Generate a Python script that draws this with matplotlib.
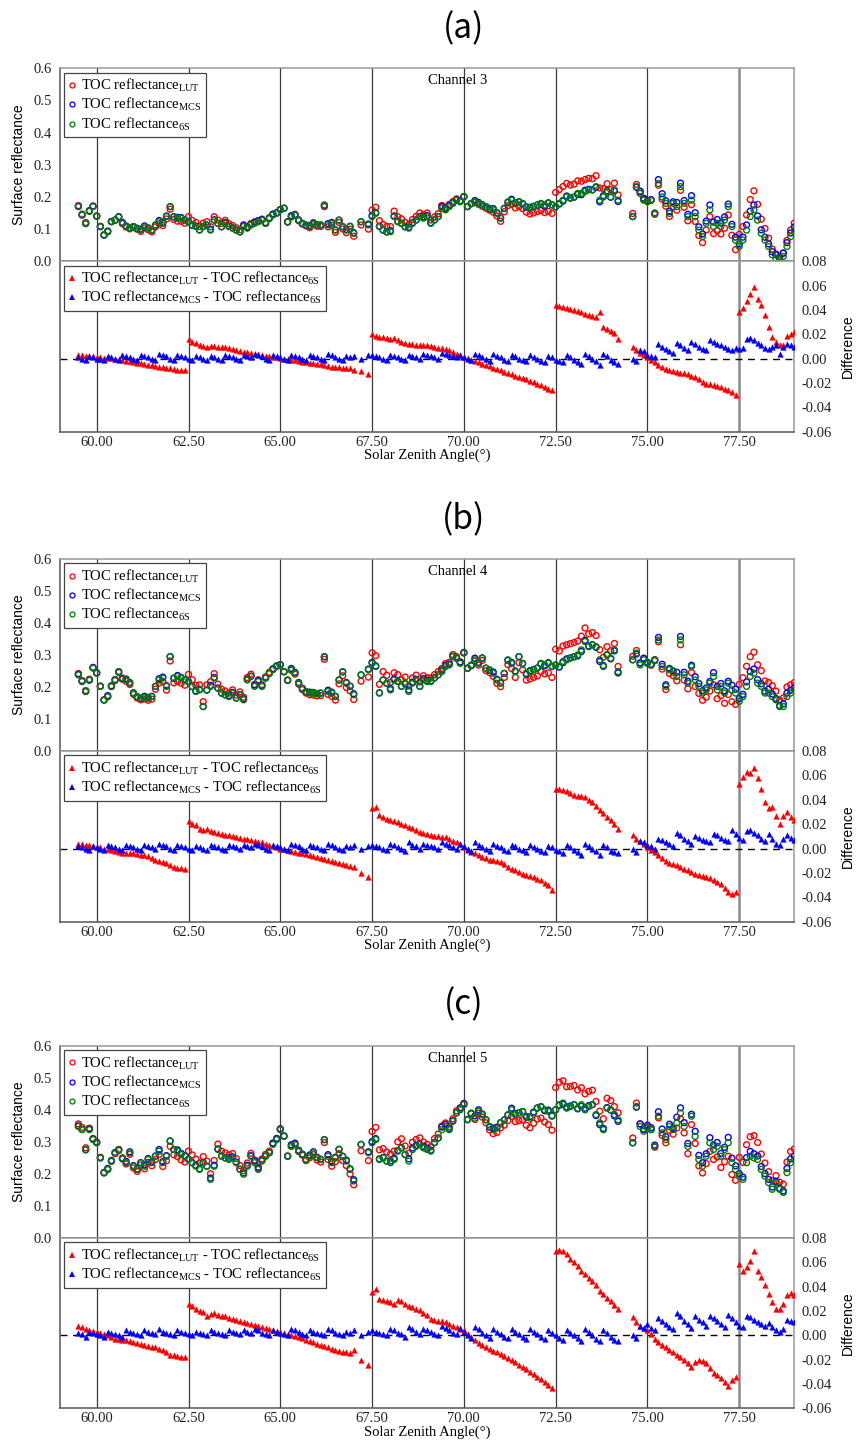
import numpy as np
import matplotlib
matplotlib.use('Agg')
import matplotlib.pyplot as plt
from matplotlib.lines import Line2D
from matplotlib.ticker import FormatStrFormatter

plt.rcParams['font.family'] = ['Liberation Serif', 'DejaVu Serif']
plt.rcParams['mathtext.fontset'] = 'custom'
plt.rcParams['mathtext.rm'] = 'Liberation Serif'
plt.rcParams['mathtext.it'] = 'Liberation Serif:italic'
plt.rcParams['mathtext.bf'] = 'Liberation Serif:bold'

# ---------------- data ----------------
sza = [59.5, 59.6, 59.7, 59.8, 59.9,
       60.0, 60.1, 60.2, 60.3, 60.4, 60.5, 60.6, 60.7, 60.8, 60.9,
       61.0, 61.1, 61.2, 61.3, 61.4, 61.5, 61.6, 61.7, 61.8, 61.9,
       62.0, 62.1, 62.2, 62.3, 62.4, 62.5, 62.6, 62.7, 62.8, 62.9,
       63.0, 63.1, 63.2, 63.3, 63.4, 63.5, 63.6, 63.7, 63.8, 63.9,
       64.0, 64.1, 64.2, 64.3, 64.4, 64.5, 64.6, 64.7, 64.8, 64.9,
       65.0, 65.1, 65.2, 65.3, 65.4, 65.5, 65.6, 65.7, 65.8, 65.9,
       66.0, 66.1, 66.2, 66.3, 66.4, 66.5, 66.6, 66.7, 66.8, 66.9,
       67.0, 67.2, 67.4,
       67.5, 67.6, 67.7, 67.8, 67.9,
       68.0, 68.1, 68.2, 68.3, 68.4, 68.5, 68.6, 68.7, 68.8, 68.9,
       69.0, 69.1, 69.2, 69.3, 69.4, 69.5, 69.6, 69.7, 69.8, 69.9,
       70.0, 70.1, 70.2, 70.3, 70.4, 70.5, 70.6, 70.7, 70.8, 70.9,
       71.0, 71.1, 71.2, 71.3, 71.4, 71.5, 71.6, 71.7, 71.8, 71.9,
       72.0, 72.1, 72.2, 72.3, 72.4, 72.5, 72.6, 72.7, 72.8, 72.9,
       73.0, 73.1, 73.2, 73.3, 73.4, 73.5, 73.6, 73.7, 73.8, 73.9,
       74.0, 74.1, 74.2,
       74.6, 74.7, 74.8, 74.9,
       75.0, 75.1, 75.2, 75.3, 75.4, 75.5, 75.6, 75.7, 75.8, 75.9,
       76.0, 76.1, 76.2, 76.3, 76.4, 76.5, 76.6, 76.7, 76.8, 76.9,
       77.0, 77.1, 77.2, 77.3, 77.4, 77.5, 77.6, 77.7, 77.8, 77.9,
       78.0, 78.1, 78.2, 78.3, 78.4, 78.5, 78.6, 78.7, 78.8, 78.9,
       79.0]

# Channel 3: 6S reflectance, LUT-6S difference, MCS-6S difference
ch3_6s = [0.17, 0.144, 0.118, 0.155, 0.17,
          0.14, 0.108, 0.082, 0.092, 0.123, 0.128, 0.139, 0.118, 0.108, 0.103,
          0.108, 0.103, 0.097, 0.108, 0.103, 0.097, 0.113, 0.123, 0.118, 0.139,
          0.17, 0.139, 0.134, 0.134, 0.128, 0.123, 0.113, 0.108, 0.097, 0.108,
          0.113, 0.097, 0.128, 0.118, 0.108, 0.118, 0.108, 0.103, 0.097, 0.092,
          0.108, 0.103, 0.113, 0.118, 0.123, 0.128, 0.118, 0.134, 0.144, 0.149,
          0.16, 0.165, 0.123, 0.139, 0.144, 0.128, 0.118, 0.113, 0.108, 0.118,
          0.113, 0.113, 0.175, 0.113, 0.118, 0.097, 0.128, 0.108, 0.097, 0.108,
          0.087, 0.123, 0.113,
          0.139, 0.149, 0.108, 0.097, 0.092,
          0.092, 0.139, 0.123, 0.118, 0.108, 0.103, 0.118, 0.128, 0.139, 0.134,
          0.139, 0.118, 0.128, 0.139, 0.165, 0.16, 0.17, 0.18, 0.19, 0.185,
          0.2, 0.17, 0.18, 0.185, 0.18, 0.175, 0.17, 0.165, 0.16, 0.149,
          0.134, 0.165, 0.185, 0.19, 0.18, 0.185, 0.18, 0.17, 0.165, 0.17,
          0.175, 0.18, 0.175, 0.18, 0.175, 0.17, 0.18, 0.19, 0.2, 0.196,
          0.2, 0.211, 0.211, 0.217, 0.222, 0.222, 0.232, 0.19, 0.2, 0.217,
          0.2, 0.222, 0.19,
          0.139, 0.232, 0.211, 0.19,
          0.185, 0.19, 0.149, 0.242, 0.2, 0.18, 0.149, 0.18, 0.17, 0.232,
          0.18, 0.139, 0.19, 0.139, 0.097, 0.077, 0.118, 0.16, 0.108, 0.118,
          0.108, 0.128, 0.17, 0.108, 0.066, 0.046, 0.066, 0.097, 0.139, 0.16,
          0.128, 0.087, 0.066, 0.046, 0.02, 0.009, 0.004, 0.015, 0.046, 0.077,
          0.097]
ch3_dlut = [0.003, 0.0028, 0.0025, 0.0022, 0.002,
            0.0014, 0.0012, 0.0008, 0.0005, 0.0002, 0.0, -0.0006, -0.001, -0.0016, -0.002,
            -0.003, -0.0032, -0.0038, -0.0043, -0.005, -0.0055, -0.006, -0.0065, -0.007, -0.0075,
            -0.008, -0.0088, -0.0092, -0.0094, -0.0096, 0.016, 0.014, 0.0125, 0.011, 0.0105,
            0.010, 0.0102, 0.0105, 0.010, 0.0098, 0.0096, 0.0088, 0.008, 0.0072, 0.0064,
            0.0055, 0.0052, 0.0045, 0.004, 0.0035, 0.003, 0.0025, 0.002, 0.0015, 0.001,
            0.0005, 0.0, -0.0005, -0.001, -0.0015, -0.002, -0.0025, -0.003, -0.0035, -0.0038,
            -0.004, -0.0046, -0.005, -0.006, -0.0065, -0.007, -0.0072, -0.0075, -0.0078, -0.008,
            -0.009, -0.010, -0.013,
            0.0205, 0.019, 0.018, 0.0175, 0.017,
            0.016, 0.017, 0.0155, 0.014, 0.013, 0.012, 0.0118, 0.0115, 0.0112, 0.011,
            0.011, 0.0105, 0.0098, 0.009, 0.0085, 0.008, 0.0068, 0.0055, 0.004, 0.0028,
            0.0014, 0.0002, -0.001, -0.002, -0.003, -0.004, -0.005, -0.0062, -0.0075, -0.0085,
            -0.0096, -0.0108, -0.012, -0.013, -0.014, -0.015, -0.016, -0.017, -0.018, -0.0195,
            -0.0205, -0.022, -0.0235, -0.025, -0.026, 0.044, 0.043, 0.0425, 0.042, 0.041,
            0.040, 0.039, 0.038, 0.037, 0.036, 0.035, 0.034, 0.038, 0.026, 0.024,
            0.023, 0.021, 0.016,
            0.0096, 0.007, 0.005, 0.003,
            0.0014, -0.001, -0.003, -0.0055, -0.007, -0.0085, -0.0096, -0.0105, -0.011, -0.0115,
            -0.012, -0.013, -0.014, -0.015, -0.017, -0.019, -0.0205, -0.021, -0.022, -0.0225,
            -0.023, -0.025, -0.026, -0.027, -0.03, 0.038, 0.042, 0.047, 0.053, 0.059,
            0.049, 0.044, 0.036, 0.026, 0.018, 0.014, 0.011, 0.011, 0.019, 0.0205,
            0.022]
ch3_dmcs = [0.001, 0.0, -0.001, 0.002, 0.001,
            0.0, -0.0005, -0.001, 0.002, 0.001, 0.0, -0.001, 0.003, 0.002, 0.001,
            0.0, -0.001, 0.003, 0.002, 0.001, 0.0, -0.001, 0.004, 0.003, 0.002,
            0.0, -0.001, 0.003, 0.002, 0.001, 0.0, -0.001, 0.002, 0.001, 0.0,
            -0.001, 0.002, 0.001, 0.0, -0.001, 0.003, 0.002, 0.001, 0.0, -0.001,
            0.003, 0.002, 0.001, 0.004, 0.003, 0.002, 0.0, -0.001, 0.003, 0.002,
            0.001, 0.0, -0.001, 0.003, 0.002, 0.001, 0.0, -0.001, 0.003, 0.002,
            0.001, 0.0, -0.001, 0.004, 0.003, 0.001, 0.0, -0.001, 0.002, 0.001,
            0.002, 0.0, 0.003,
            0.003, 0.002, 0.001, 0.0, -0.001,
            0.003, 0.002, 0.001, 0.0, -0.001, 0.003, 0.002, 0.001, 0.0, 0.004,
            0.003, 0.002, 0.001, 0.0, 0.005, 0.004, 0.003, 0.002, 0.001, 0.003,
            0.001, 0.0, -0.001, 0.004, 0.003, 0.001, 0.0, -0.002, 0.004, 0.002,
            0.001, -0.001, -0.002, 0.003, 0.002, 0.0, -0.001, -0.002, 0.003, 0.001,
            0.0, -0.002, -0.003, 0.002, 0.001, -0.001, -0.002, -0.003, 0.003, 0.001,
            -0.001, -0.003, -0.004, 0.004, 0.002, 0.0, -0.002, -0.005, 0.004, 0.002,
            -0.001, -0.003, -0.004,
            0.0, -0.002, 0.007, 0.006,
            0.003, 0.002, 0.001, 0.012, 0.010, 0.008, 0.006, 0.005, 0.013, 0.011,
            0.009, 0.007, 0.014, 0.012, 0.010, 0.008, 0.007, 0.015, 0.014, 0.012,
            0.011, 0.010, 0.008, 0.007, 0.009, 0.008, 0.009, 0.016, 0.017, 0.015,
            0.013, 0.011, 0.009, 0.008, 0.010, 0.011, 0.004, 0.010, 0.012, 0.011,
            0.010]

# Channel 4
ch4_6s = [0.238, 0.217, 0.186, 0.222, 0.259,
          0.243, 0.202, 0.16, 0.17, 0.202, 0.222, 0.248, 0.228, 0.222, 0.212,
          0.181, 0.17, 0.165, 0.168, 0.165, 0.17, 0.202, 0.222, 0.228, 0.202,
          0.295, 0.228, 0.233, 0.228, 0.222, 0.217, 0.202, 0.186, 0.191, 0.139,
          0.191, 0.202, 0.228, 0.196, 0.181, 0.176, 0.17, 0.181, 0.165, 0.176,
          0.16, 0.222, 0.233, 0.202, 0.217, 0.202, 0.228, 0.243, 0.254, 0.264,
          0.269, 0.248, 0.222, 0.254, 0.243, 0.212, 0.196, 0.186, 0.181, 0.181,
          0.179, 0.181, 0.295, 0.186, 0.181, 0.17, 0.222, 0.248, 0.212, 0.202,
          0.176, 0.238, 0.254,
          0.274, 0.264, 0.181, 0.222, 0.212,
          0.191, 0.222, 0.217, 0.202, 0.212, 0.186, 0.212, 0.222, 0.202, 0.222,
          0.217, 0.217, 0.228, 0.238, 0.248, 0.264, 0.269, 0.295, 0.29, 0.274,
          0.306, 0.259, 0.269, 0.285, 0.274, 0.29, 0.259, 0.254, 0.243, 0.222,
          0.212, 0.243, 0.285, 0.274, 0.248, 0.295, 0.274, 0.243, 0.248, 0.254,
          0.259, 0.274, 0.269, 0.274, 0.264, 0.269, 0.264, 0.28, 0.285, 0.29,
          0.295, 0.3, 0.316, 0.342, 0.326, 0.332, 0.326, 0.285, 0.264, 0.3,
          0.29, 0.316, 0.248,
          0.285, 0.306, 0.269, 0.285,
          0.274, 0.269, 0.285, 0.347, 0.264, 0.202, 0.254, 0.248, 0.233, 0.347,
          0.238, 0.212, 0.264, 0.222, 0.202, 0.181, 0.191, 0.212, 0.233, 0.191,
          0.202, 0.181, 0.212, 0.191, 0.181, 0.155, 0.17, 0.202, 0.233, 0.243,
          0.212, 0.202, 0.181, 0.181, 0.17, 0.16, 0.139, 0.139, 0.17, 0.181,
          0.191]
ch4_dlut = [0.004, 0.0035, 0.003, 0.0025, 0.002,
            0.0014, 0.001, 0.0, -0.0005, -0.001, -0.002, -0.003, -0.004, -0.004, -0.004,
            -0.004, -0.0045, -0.005, -0.0055, -0.0065, -0.008, -0.009, -0.010, -0.011, -0.012,
            -0.0137, -0.015, -0.016, -0.0162, -0.0164, 0.0225, 0.0205, 0.019, 0.016, 0.015,
            0.016, 0.0145, 0.0137, 0.013, 0.012, 0.0115, 0.011, 0.0102, 0.0095, 0.0088,
            0.0082, 0.0075, 0.007, 0.0062, 0.0056, 0.005, 0.004, 0.003, 0.002, 0.001,
            0.0, -0.0007, -0.0014, -0.002, -0.0027, -0.0033, -0.004, -0.0047, -0.0054, -0.006,
            -0.0068, -0.0076, -0.0085, -0.0093, -0.010, -0.011, -0.012, -0.013, -0.0135, -0.0142,
            -0.015, -0.0197, -0.023,
            0.0329, 0.034, 0.0274, 0.026, 0.0245,
            0.0233, 0.0225, 0.0215, 0.0205, 0.019, 0.0178, 0.0165, 0.015, 0.0137, 0.013,
            0.0123, 0.011, 0.0105, 0.010, 0.0098, 0.0096, 0.008, 0.0065, 0.005, 0.004,
            0.0014, -0.0008, -0.0025, -0.004, -0.0055, -0.0068, -0.008, -0.009, -0.0098, -0.0105,
            -0.011, -0.013, -0.015, -0.0164, -0.018, -0.019, -0.0205, -0.0215, -0.0225, -0.0237,
            -0.0247, -0.026, -0.028, -0.030, -0.034, 0.049, 0.0485, 0.048, 0.047, 0.0455,
            0.044, 0.0435, 0.043, 0.0425, 0.040, 0.038, 0.035, 0.0315, 0.029, 0.026,
            0.023, 0.020, 0.0164,
            0.011, 0.0082, 0.006, 0.004,
            0.0014, -0.001, -0.003, -0.0055, -0.008, -0.010, -0.012, -0.013, -0.0137, -0.015,
            -0.0164, -0.0178, -0.019, -0.0205, -0.022, -0.0225, -0.023, -0.0245, -0.026, -0.0275,
            -0.029, -0.032, -0.0356, -0.037, -0.0356, 0.053, 0.059, 0.063, 0.0616, 0.0658,
            0.0575, 0.049, 0.038, 0.033, 0.034, 0.027, 0.0205, 0.027, 0.030, 0.026,
            0.023]
ch4_dmcs = [0.002, 0.001, 0.0, -0.001, 0.002,
            0.001, 0.0, -0.001, 0.003, 0.002, 0.001, 0.0, -0.001, 0.003, 0.002,
            0.001, 0.0, -0.001, 0.003, 0.002, 0.001, 0.0, 0.004, 0.003, 0.002,
            0.0, -0.001, 0.003, 0.002, 0.001, 0.0, -0.001, 0.002, 0.001, 0.0,
            -0.001, 0.003, 0.002, 0.001, 0.0, -0.001, 0.003, 0.002, 0.001, 0.0,
            0.003, 0.002, 0.001, 0.004, 0.003, 0.002, 0.0, -0.001, 0.003, 0.002,
            0.001, 0.0, -0.001, 0.004, 0.003, 0.002, 0.0, -0.001, 0.003, 0.002,
            0.001, 0.0, -0.001, 0.004, 0.003, 0.001, 0.0, -0.001, 0.002, 0.001,
            0.003, 0.0, 0.002,
            0.003, 0.002, 0.001, 0.0, -0.001,
            0.004, 0.003, 0.001, 0.0, -0.002, 0.005, 0.003, 0.002, 0.0, 0.004,
            0.003, 0.002, 0.001, 0.0, 0.005, 0.004, 0.003, 0.001, 0.0, 0.004,
            0.002, 0.0, -0.002, 0.005, 0.003, 0.001, 0.0, -0.002, 0.004, 0.002,
            0.001, -0.001, -0.002, 0.003, 0.002, 0.0, -0.001, -0.003, 0.003, 0.001,
            0.0, -0.002, -0.003, 0.002, 0.001, -0.001, -0.002, -0.004, 0.003, 0.001,
            -0.001, -0.003, -0.005, 0.004, 0.002, 0.0, -0.002, -0.005, 0.003, 0.001,
            -0.002, -0.003, -0.004,
            0.0, -0.003, 0.006, 0.005,
            0.003, 0.002, 0.0, 0.008, 0.007, 0.005, 0.004, 0.002, 0.013, 0.011,
            0.008, 0.006, 0.004, 0.010, 0.009, 0.007, 0.006, 0.005, 0.012, 0.011,
            0.009, 0.007, 0.006, 0.015, 0.012, 0.009, 0.007, 0.014, 0.015, 0.013,
            0.011, 0.008, 0.006, 0.012, 0.008, 0.004, 0.003, 0.008, 0.011, 0.009,
            0.007]

# Channel 5
ch5_6s = [0.348, 0.338, 0.276, 0.338, 0.307,
          0.297, 0.25, 0.204, 0.214, 0.24, 0.266, 0.276, 0.25, 0.235, 0.266,
          0.224, 0.214, 0.235, 0.224, 0.245, 0.235, 0.255, 0.271, 0.235, 0.255,
          0.302, 0.276, 0.271, 0.261, 0.255, 0.245, 0.235, 0.224, 0.214, 0.235,
          0.224, 0.183, 0.224, 0.276, 0.255, 0.25, 0.245, 0.25, 0.235, 0.214,
          0.199, 0.224, 0.255, 0.235, 0.214, 0.24, 0.255, 0.266, 0.292, 0.307,
          0.338, 0.317, 0.255, 0.286, 0.292, 0.271, 0.261, 0.245, 0.255, 0.266,
          0.25, 0.245, 0.307, 0.255, 0.235, 0.25, 0.276, 0.255, 0.24, 0.214,
          0.178, 0.292, 0.266,
          0.297, 0.307, 0.245, 0.25, 0.24,
          0.235, 0.245, 0.271, 0.281, 0.261, 0.24, 0.276, 0.286, 0.292, 0.281,
          0.276, 0.271, 0.297, 0.312, 0.338, 0.348, 0.338, 0.364, 0.39, 0.4,
          0.416, 0.369, 0.39, 0.374, 0.395, 0.385, 0.369, 0.348, 0.338, 0.343,
          0.359, 0.369, 0.385, 0.4, 0.385, 0.39, 0.395, 0.38, 0.374, 0.39,
          0.405, 0.41, 0.4, 0.395, 0.38, 0.4, 0.416, 0.421, 0.405, 0.41,
          0.416, 0.405, 0.416, 0.4, 0.41, 0.416, 0.385, 0.359, 0.338, 0.405,
          0.4, 0.385, 0.369,
          0.297, 0.41, 0.348, 0.333,
          0.343, 0.338, 0.286, 0.38, 0.328, 0.307, 0.348, 0.338, 0.359, 0.39,
          0.348, 0.286, 0.38, 0.317, 0.245, 0.224, 0.255, 0.297, 0.276, 0.286,
          0.255, 0.276, 0.297, 0.235, 0.214, 0.193, 0.183, 0.235, 0.255, 0.25,
          0.245, 0.214, 0.193, 0.173, 0.152, 0.173, 0.152, 0.142, 0.204, 0.235,
          0.245]
ch5_dlut = [0.008, 0.007, 0.0055, 0.0045, 0.0035,
            0.0027, 0.002, 0.001, 0.0, -0.001, -0.0027, -0.003, -0.0035, -0.004, -0.0048,
            -0.0055, -0.006, -0.007, -0.008, -0.009, -0.0095, -0.010, -0.011, -0.012, -0.014,
            -0.016, -0.0165, -0.017, -0.0175, -0.018, 0.026, 0.024, 0.022, 0.020, 0.019,
            0.016, 0.0175, 0.018, 0.017, 0.016, 0.0155, 0.0145, 0.0135, 0.0128, 0.012,
            0.011, 0.010, 0.0092, 0.0085, 0.0076, 0.0068, 0.006, 0.005, 0.0042, 0.0035,
            0.0027, 0.0018, 0.001, 0.0, -0.0007, -0.0014, -0.0025, -0.0035, -0.0047, -0.0058,
            -0.0068, -0.008, -0.009, -0.010, -0.011, -0.012, -0.0128, -0.0135, -0.014, -0.0145,
            -0.012, -0.020, -0.0245,
            0.0354, 0.038, 0.030, 0.029, 0.028,
            0.027, 0.026, 0.029, 0.0286, 0.026, 0.0245, 0.023, 0.0215, 0.0204, 0.018,
            0.0163, 0.0136, 0.013, 0.012, 0.0115, 0.011, 0.0095, 0.008, 0.007, 0.0055,
            0.004, 0.0012, -0.0015, -0.004, -0.006, -0.008, -0.0095, -0.011, -0.0125, -0.0138,
            -0.015, -0.0167, -0.0184, -0.020, -0.022, -0.024, -0.026, -0.028, -0.030, -0.032,
            -0.034, -0.036, -0.038, -0.041, -0.0436, 0.0695, 0.070, 0.0695, 0.067, 0.063,
            0.060, 0.057, 0.053, 0.050, 0.0475, 0.045, 0.041, 0.0368, 0.034, 0.031,
            0.0286, 0.025, 0.0218,
            0.015, 0.011, 0.008, 0.006,
            0.004, 0.0007, -0.0027, -0.0055, -0.008, -0.010, -0.012, -0.014, -0.016, -0.018,
            -0.020, -0.023, -0.026, -0.022, -0.020, -0.021, -0.023, -0.027, -0.031, -0.033,
            -0.035, -0.038, -0.042, -0.037, -0.034, 0.0586, 0.053, 0.056, 0.061, 0.0695,
            0.053, 0.048, 0.041, 0.034, 0.027, 0.022, 0.022, 0.026, 0.033, 0.035,
            0.033]
ch5_dmcs = [0.002, 0.001, -0.001, 0.003, 0.002,
            0.001, 0.0, -0.001, 0.003, 0.002, 0.001, 0.0, -0.001, 0.004, 0.003,
            0.002, 0.001, 0.0, 0.004, 0.003, 0.002, 0.001, 0.005, 0.003, 0.002,
            0.001, 0.0, 0.004, 0.003, 0.002, 0.001, 0.0, 0.003, 0.002, 0.001,
            0.0, 0.004, 0.003, 0.002, 0.001, 0.0, 0.004, 0.003, 0.002, 0.001,
            0.004, 0.003, 0.002, 0.005, 0.004, 0.002, 0.001, 0.0, 0.004, 0.003,
            0.002, 0.001, 0.0, 0.005, 0.004, 0.003, 0.001, 0.0, 0.004, 0.003,
            0.002, 0.001, 0.0, 0.005, 0.004, 0.002, 0.001, 0.0, 0.003, 0.002,
            0.004, 0.0, 0.003,
            0.004, 0.003, 0.002, 0.001, 0.0,
            0.005, 0.004, 0.002, 0.001, -0.001, 0.007, 0.005, 0.003, 0.001, 0.005,
            0.004, 0.003, 0.001, 0.0, 0.008, 0.006, 0.004, 0.002, 0.001, 0.006,
            0.003, 0.0, -0.002, 0.007, 0.005, 0.002, 0.0, -0.002, 0.005, 0.003,
            0.001, -0.001, -0.002, 0.005, 0.003, 0.001, -0.001, -0.003, 0.005, 0.003,
            0.001, -0.001, -0.003, 0.004, 0.002, 0.0, -0.002, -0.004, 0.004, 0.002,
            0.0, -0.002, -0.005, 0.005, 0.003, 0.0, -0.003, -0.005, 0.004, 0.002,
            -0.001, -0.004, -0.005,
            0.0, -0.002, 0.008, 0.006,
            0.009, 0.006, 0.004, 0.014, 0.012, 0.009, 0.007, 0.005, 0.018, 0.016,
            0.012, 0.009, 0.006, 0.016, 0.013, 0.011, 0.008, 0.016, 0.014, 0.012,
            0.009, 0.007, 0.017, 0.014, 0.011, 0.008, 0.007, 0.016, 0.015, 0.013,
            0.011, 0.009, 0.008, 0.010, 0.007, 0.004, 0.003, 0.005, 0.013, 0.012,
            0.011]

panel_tags = ['(a)', '(b)', '(c)']
channel_names = ['Channel 3', 'Channel 4', 'Channel 5']
refl_6s = [ch3_6s, ch4_6s, ch5_6s]
diff_lut = [ch3_dlut, ch4_dlut, ch5_dlut]
diff_mcs = [ch3_dmcs, ch4_dmcs, ch5_dmcs]

grid_angles = [60.0, 62.5, 65.0, 67.5, 70.0, 72.5, 75.0, 77.5]
refl_ticks = [0.0, 0.1, 0.2, 0.3, 0.4, 0.5, 0.6]
diff_ticks = [-0.06, -0.04, -0.02, 0.0, 0.02, 0.04, 0.06, 0.08]

lab_lut = r'TOC reflectance$_{\rm LUT}$'
lab_mcs = r'TOC reflectance$_{\rm MCS}$'
lab_6s = r'TOC reflectance$_{\rm 6S}$'

# ---------------- layout (pixels) ----------------
W, H = 860, 1441
left_px, right_px = 60.0, 794.3
layout = [  # top, mid, bottom, title centre
    (68.3, 261.3, 431.7, 29.0),
    (559.0, 751.0, 921.7, 520.0),
    (1045.7, 1238.0, 1408.3, 1005.0),
]

fig = plt.figure(figsize=(W / 100, H / 100), dpi=100)


def rect(t, b):
    return [left_px / W, 1 - b / H, (right_px - left_px) / W, (b - t) / H]


def style_axes(ax):
    ax.set_xlim(59.0, 79.0)
    for v in grid_angles:
        if v == 77.5:
            ax.axvline(v, color='#8a8a8a', lw=1.8, zorder=1)
        else:
            ax.axvline(v, color='#3a3a3a', lw=0.9, zorder=1)
    for sp in ['left', 'bottom']:
        ax.spines[sp].set_color('#555555')
    for sp in ['top', 'right']:
        ax.spines[sp].set_color('#999999')
    for sp in ax.spines.values():
        sp.set_linewidth(1.1)
    ax.tick_params(length=0, labelsize=10.5, colors='#222222')


x = np.array(sza)
for i in range(3):
    top, mid, bot, ttl = layout[i]
    s6 = np.array(refl_6s[i])
    dl = np.array(diff_lut[i])
    dm = np.array(diff_mcs[i])
    lut = s6 + dl
    mcs = s6 + dm

    ax1 = fig.add_axes(rect(top, mid))
    ax2 = fig.add_axes(rect(mid, bot))
    style_axes(ax1)
    style_axes(ax2)

    # top: reflectances
    ax1.scatter(x, lut, s=18, facecolors='none', edgecolors='#ff0000', linewidths=1.0, zorder=3)
    ax1.scatter(x, mcs, s=18, facecolors='none', edgecolors='#0000ff', linewidths=1.0, zorder=4)
    ax1.scatter(x, s6, s=18, facecolors='none', edgecolors='#008000', linewidths=1.0, zorder=5)
    ax1.set_ylim(0.0, 0.6)
    ax1.set_yticks(refl_ticks)
    ax1.yaxis.set_major_formatter(FormatStrFormatter('%.1f'))
    ax1.tick_params(axis='y', pad=6)
    ax1.set_xticks(grid_angles)
    ax1.set_xticklabels([])
    ax1.set_ylabel('Surface reflectance', family=['Liberation Sans'], fontsize=10, labelpad=5)
    ax1.text(0.541, 0.935, channel_names[i], transform=ax1.transAxes, ha='center', va='center',
             fontsize=10.5, zorder=6)
    h1 = [Line2D([], [], ls='none', marker='o', ms=3.6, mfc='none', mec=c, mew=0.9)
          for c in ['#ff0000', '#0000ff', '#008000']]
    leg1 = ax1.legend(h1, [lab_lut, lab_mcs, lab_6s], loc='upper left', fontsize=10.5,
                      frameon=True, fancybox=False, edgecolor='#444444', framealpha=1,
                      borderaxespad=0.3, borderpad=0.3, handlelength=0.4, handletextpad=0.45,
                      labelspacing=0.15)
    leg1.get_frame().set_linewidth(0.9)
    leg1.set_zorder(10)

    # bottom: differences
    ax2.scatter(x, dl, s=20, marker='^', color='#ff0000', linewidths=0, zorder=3)
    ax2.scatter(x, dm, s=20, marker='^', color='#0000ff', linewidths=0, zorder=4)
    ax2.axhline(0.0, color='black', lw=1.0, ls=(0, (5, 4)), zorder=2)
    ax2.set_ylim(-0.06, 0.08)
    ax2.set_yticks(diff_ticks)
    ax2.yaxis.set_major_formatter(FormatStrFormatter('%.2f'))
    ax2.yaxis.tick_right()
    ax2.yaxis.set_label_position('right')
    ax2.tick_params(axis='y', pad=5)
    ax2.set_ylabel('Difference', family=['Liberation Sans'], fontsize=10, labelpad=7)
    ax2.set_xticks(grid_angles)
    ax2.xaxis.set_major_formatter(FormatStrFormatter('%.2f'))
    ax2.tick_params(axis='x', pad=3)
    ax2.set_xlabel('Solar Zenith Angle(°)', fontsize=10.5, labelpad=0)
    h2 = [Line2D([], [], ls='none', marker='^', ms=4.2, color=c, mew=0)
          for c in ['#ff0000', '#0000ff']]
    leg2 = ax2.legend(h2, [lab_lut + ' - ' + lab_6s, lab_mcs + ' - ' + lab_6s],
                      loc='upper left', fontsize=10.5, frameon=True, fancybox=False,
                      edgecolor='#444444', framealpha=1, borderaxespad=0.3, borderpad=0.3,
                      handlelength=0.4, handletextpad=0.45, labelspacing=0.15)
    leg2.get_frame().set_linewidth(0.9)
    leg2.set_zorder(10)

    fig.text(464 / W, 1 - ttl / H, panel_tags[i], ha='center', va='center', fontsize=24,
             family=['Noto Sans CJK KR', 'DejaVu Sans'])

fig.savefig('out.png', dpi=100)
